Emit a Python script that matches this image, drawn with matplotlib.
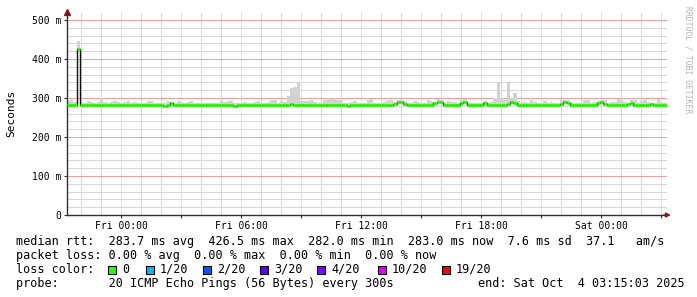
import numpy as np
import pandas as pd
import matplotlib
matplotlib.use('Agg')
import matplotlib.pyplot as plt
import matplotlib.dates as mdates
from matplotlib.patches import Rectangle

# 10 minute samples, Thu 21:15 -> Sat 03:15
start = '2025-10-02 21:15:03'
median_ms = [
    283, 283, 283, 426, 283, 283, 283, 283, 283, 283, 283, 283, 283, 283, 283, 283, 283, 283,
    283, 283, 283, 283, 283, 283, 283, 283, 283, 283, 283, 280, 283, 288, 283, 283, 283, 283,
    283, 283, 283, 283, 283, 283, 283, 283, 283, 283, 283, 283, 283, 283, 280, 283, 283, 283,
    283, 283, 283, 283, 283, 283, 283, 283, 283, 283, 283, 283, 283, 285, 283, 283, 283, 283,
    283, 283, 283, 283, 283, 283, 283, 283, 283, 283, 281, 281, 280, 281, 281, 281, 281, 281,
    281, 281, 282, 281, 282, 283, 283, 283, 284, 289, 291, 284, 282, 283, 282, 283, 283, 283,
    283, 283, 286, 290, 289, 282, 281, 281, 282, 283, 286, 289, 283, 282, 281, 281, 282, 287,
    283, 283, 283, 283, 283, 283, 284, 290, 286, 283, 283, 283, 283, 283, 283, 283, 283, 283,
    283, 283, 283, 283, 284, 290, 286, 283, 283, 283, 283, 283, 282, 281, 282, 286, 291, 285,
    283, 283, 282, 281, 282, 283, 284, 286, 283, 283, 283, 283, 283, 285, 283, 283, 283, 283,
]
smoke_max_ms = [
    292, 295, 290, 445, 290, 288, 292, 290, 288, 290, 300, 290, 288, 291, 292, 289, 288, 290,
    292, 288, 290, 286, 288, 286, 292, 292, 288, 286, 286, 288, 293, 290, 286, 292, 290, 288,
    290, 292, 286, 286, 286, 286, 286, 286, 286, 288, 292, 290, 292, 292, 286, 286, 288, 290,
    288, 286, 290, 292, 286, 286, 290, 295, 294, 288, 292, 290, 305, 326, 328, 341, 292, 292,
    292, 295, 290, 286, 288, 296, 300, 298, 299, 296, 294, 288, 286, 290, 292, 288, 286, 286,
    296, 297, 288, 286, 288, 290, 295, 294, 290, 294, 295, 292, 286, 288, 292, 291, 288, 286,
    295, 292, 290, 298, 296, 288, 292, 290, 290, 288, 296, 298, 288, 286, 286, 288, 288, 292,
    288, 290, 300, 341, 300, 296, 340, 300, 312, 292, 288, 290, 288, 294, 290, 288, 288, 292,
    288, 290, 286, 288, 296, 295, 294, 290, 288, 286, 288, 296, 294, 288, 290, 292, 296, 294,
    288, 290, 290, 297, 296, 290, 288, 294, 295, 288, 292, 294, 290, 288, 288, 298, 290, 288,
]
y_ticks = [0, 100, 200, 300, 400, 500]
y_tick_labels = ['0', '100 m', '200 m', '300 m', '400 m', '500 m']

stats_line = 'median rtt:  283.7 ms avg  426.5 ms max  282.0 ms min  283.0 ms now  7.6 ms sd  37.1   am/s'
loss_line = 'packet loss: 0.00 % avg  0.00 % max  0.00 % min  0.00 % now'
loss_labels = ['0', '1/20', '2/20', '3/20', '4/20', '10/20', '19/20']
loss_colors = ['#26ff00', '#00b8ff', '#0059ff', '#5e00ff', '#7e00ff', '#dd00ff', '#ff0000']
probe_line = 'probe:       20 ICMP Echo Pings (56 Bytes) every 300s'
end_line = 'end: Sat Oct  4 03:15:03 2025'

W, H = 697, 297
MONO = 'DejaVu Sans Mono'


def px(x, y):
    return x / W, 1 - y / H


times = pd.date_range(start, periods=len(median_ms) + 1, freq='10min')
edges = mdates.date2num(times.to_pydatetime())
median = np.array(median_ms, dtype=float)
smoke = np.array(smoke_max_ms, dtype=float)

fig = plt.figure(figsize=(W / 100, H / 100), dpi=100)
ax = fig.add_axes([66.5 / W, 1 - 215 / H, 600 / W, 202.8 / H])

# smoke + median line
ax.stairs(smoke, edges, baseline=median, fill=True, color='#d2d2d2', zorder=2)
ax.stairs(median, edges, baseline=None, color='#101010', lw=1.0, zorder=3)
ax.hlines(median, edges[:-1], edges[1:], color=loss_colors[0], lw=2.0, zorder=4)

ax.set_xlim(edges[0], edges[0] + 30 / 24)
ax.set_ylim(0, 520)

# grid: grey every hour / 20 ms, red every 3 hours / 100 ms
ax.xaxis.set_major_locator(mdates.HourLocator(byhour=range(0, 24, 3)))
ax.xaxis.set_minor_locator(mdates.HourLocator(byhour=[h for h in range(24) if h % 3]))
ax.xaxis.set_major_formatter(plt.FuncFormatter(
    lambda v, pos: mdates.num2date(v).strftime('%a %H:%M') if mdates.num2date(v).hour % 6 == 0 else ''))
ax.set_yticks(y_ticks)
ax.set_yticklabels(y_tick_labels)
ax.set_yticks([v for v in range(20, 520, 20) if v % 100], minor=True)

ax.grid(which='minor', color='#d6d6d6', lw=0.72, linestyle=(0, (1, 1)), antialiased=False, zorder=1)
ax.yaxis.grid(which='major', color='#eda0a0', lw=0.72, linestyle=(0, (1, 1)), antialiased=False, zorder=1)
ax.xaxis.grid(which='major', color='#f0b0b0', lw=0.72, linestyle=(0, (1, 1)), antialiased=True, zorder=1)
ax.set_axisbelow(True)

ax.tick_params(which='major', length=2, width=0.8, color='#303030', labelsize=7, pad=2)
ax.tick_params(which='minor', length=0)
for lab in ax.get_xticklabels() + ax.get_yticklabels():
    lab.set_family(MONO)

for s in ['top', 'right']:
    ax.spines[s].set_visible(False)
for s in ['left', 'bottom']:
    ax.spines[s].set_color('#303030')
    ax.spines[s].set_linewidth(1.0)

fig.text(*px(11, 113), 'Seconds', rotation=90, ha='center', va='center', family=MONO, fontsize=8)

# axis arrows
ax.plot([0], [1.0], marker='^', color='#8b1a1a', ms=4, transform=ax.transAxes, clip_on=False)
ax.annotate('', xy=(1.012, 0), xytext=(0.99, 0), xycoords='axes fraction',
            arrowprops=dict(arrowstyle='-|>', color='#8b1a1a', lw=1, mutation_scale=7))

fig.text(*px(688, 60), 'RRDTOOL / TOBI OETIKER', rotation=270, ha='center', va='center',
         family=MONO, fontsize=5.8, color='#b4b4b4')

# legend block
fs = 8.5
fig.text(*px(16, 245), stats_line, family=MONO, fontsize=fs, va='baseline')
fig.text(*px(16, 259), loss_line, family=MONO, fontsize=fs, va='baseline')
fig.text(*px(16, 273), 'loss color:', family=MONO, fontsize=fs, va='baseline')
box_x = [108, 146, 203, 260, 317, 378, 442]
for bx, lab, col in zip(box_x, loss_labels, loss_colors):
    x0, y0 = px(bx, 274)
    fig.patches.append(Rectangle((x0, y0), 8 / W, 8 / H, transform=fig.transFigure,
                                 facecolor=col, edgecolor='black', lw=0.8))
    fig.text(*px(bx + 14, 273), lab, family=MONO, fontsize=fs, va='baseline')
fig.text(*px(16, 287), probe_line, family=MONO, fontsize=fs, va='baseline')
fig.text(*px(478, 287), end_line, family=MONO, fontsize=fs, va='baseline')

fig.savefig('out.png', dpi=100)
